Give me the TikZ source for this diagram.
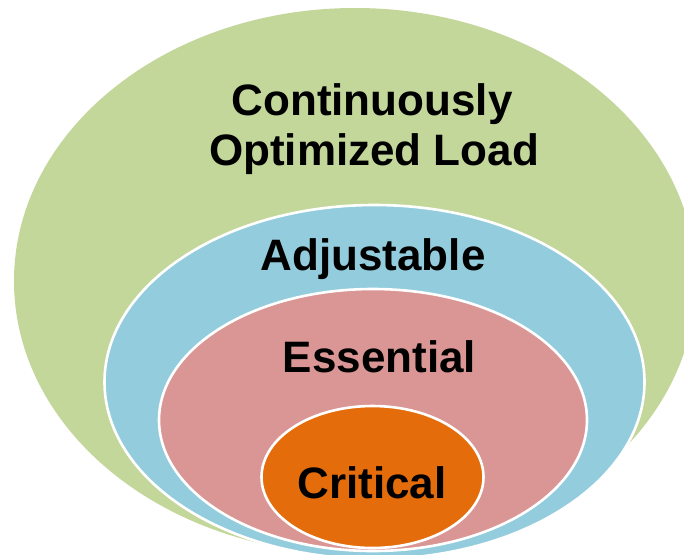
\documentclass[tikz,border=0pt]{standalone}
\usepackage{fontspec}
\setmainfont{Liberation Sans}
\definecolor{cgreen}{HTML}{C4D79B}
\definecolor{cblue}{HTML}{93CDDD}
\definecolor{cpink}{HTML}{D99694}
\definecolor{corange}{HTML}{E46C0A}
\tikzset{
  ring/.style={fill=#1, draw=white, line width=2.6pt},
  lbl/.style={anchor=base, inner sep=0pt, font=\fontsize{44}{50}\selectfont\bfseries, text=black, align=center}
}
\begin{document}
\begin{tikzpicture}[x=1pt,y=-1pt]
\useasboundingbox (0,0) rectangle (684,554);
\fill[white] (0,0) rectangle (684,554);
\clip (0,0) rectangle (684,554);
\fill[cgreen] (355,281) ellipse [x radius=341, y radius=273];
\draw[ring=cblue] (374.5,382) ellipse [x radius=270, y radius=177];
\draw[ring=cpink] (373,420) ellipse [x radius=214, y radius=131];
\draw[ring=corange] (372.5,477) ellipse [x radius=111, y radius=71];
\node[lbl] (col1) at (372,115) {Continuously};
\node[lbl] (col2) at (374,165) {Optimized Load};
\node[lbl] (adj) at (373,270) {Adjustable};
\node[lbl] (ess) at (379.5,372) {Essential};
\node[lbl] (cri) at (372,498) {Critical};
\end{tikzpicture}
\end{document}
